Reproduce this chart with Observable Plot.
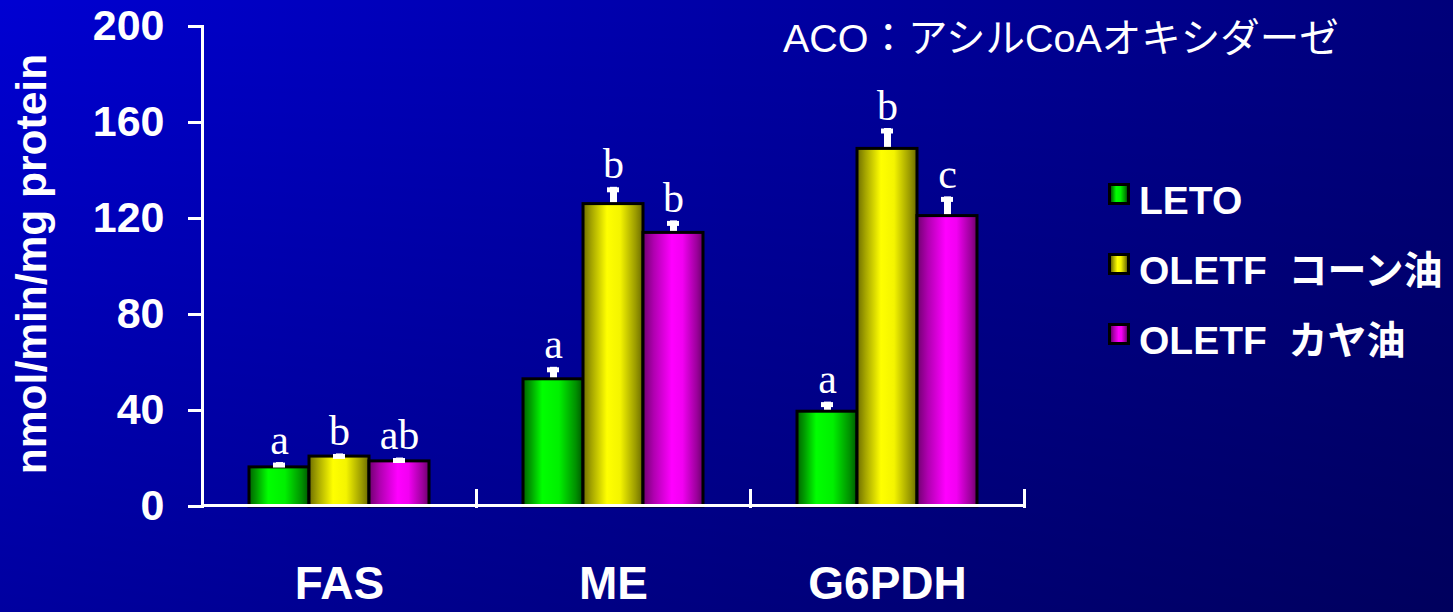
<!DOCTYPE html>
<html>
<head>
<meta charset="utf-8">
<script src="https://cdn.jsdelivr.net/npm/d3@7"></script>
<script src="https://cdn.jsdelivr.net/npm/@observablehq/plot@0.6"></script>
<style>
  body { margin: 0; }
  #chart {
    position: relative;
    width: 1453px;
    height: 612px;
    overflow: hidden;
    background:
      linear-gradient(to bottom, rgba(0,0,0,0) 0%, rgba(0,0,0,0.24) 100%),
      linear-gradient(to right, #0000d2, #00007a);
    font-family: "Liberation Sans", "Noto Sans CJK JP", sans-serif;
    color: #fff;
  }
  #chart svg { position: absolute; left: 0; top: 0; }
  .title {
    position: absolute; left: 783px; top: 19px;
    font-size: 39.5px; line-height: 39px; white-space: pre;
  }
  .ylabel {
    position: absolute; left: 32px; top: 264px;
    transform: translate(-50%, -50%) rotate(-90deg);
    font-size: 42.5px; line-height: 42px; font-weight: bold; white-space: pre;
  }
  .legend-row { position: absolute; left: 1108px; height: 0; }
  .legend-row .swatch {
    position: absolute; left: 0; width: 16px; height: 16px;
    border: 3px solid #000;
  }
  .legend-row .name {
    position: absolute; left: 31px;
    font-size: 39px; line-height: 39px; font-weight: bold; white-space: pre;
  }
</style>
</head>
<body>
<div id="chart"></div>
<script>
// Enzyme activities (nmol/min/mg protein) per enzyme and rat group
const categories = ["FAS", "ME", "G6PDH"];
const groups = ["LETO", "OLETF  コーン油", "OLETF  カヤ油"];

const letoValues = [16.3, 53, 39.5];
const cornValues = [20.8, 126, 149];
const kayaValues = [18.8, 114, 121];

const letoErrors = [2, 5, 4];
const cornErrors = [1.1, 7, 8.5];
const kayaErrors = [1.4, 5, 8];

const letoLetters = ["a", "a", "a"];
const cornLetters = ["b", "b", "b"];
const kayaLetters = ["ab", "b", "c"];

const yTicks = [0, 40, 80, 120, 160, 200];
const yLabel = "nmol/min/mg protein";
const titleText = "ACO：アシルCoAオキシダーゼ";

// Cylinder-like shading for each group's bars
const gradientStops = [
  [["0", "#006400"], ["0.12", "#009a00"], ["0.32", "#00ff00"], ["0.6", "#00f000"], ["0.88", "#009000"], ["1", "#005800"]],
  [["0", "#6e6e00"], ["0.15", "#a8a800"], ["0.4", "#ffff00"], ["0.62", "#f4f400"], ["0.88", "#9a9a00"], ["1", "#6a6a00"]],
  [["0", "#700070"], ["0.18", "#b000b0"], ["0.48", "#ff00ff"], ["0.66", "#f200f2"], ["0.9", "#9a009a"], ["1", "#6a006a"]]
];
const gradientIds = ["grad-leto", "grad-corn", "grad-kaya"];

const series = [
  {values: letoValues, errors: letoErrors, letters: letoLetters},
  {values: cornValues, errors: cornErrors, letters: cornLetters},
  {values: kayaValues, errors: kayaErrors, letters: kayaLetters}
];

const table = categories.flatMap((category, i) =>
  series.map((s, j) => ({
    category,
    group: groups[j],
    value: s.values[i],
    error: s.errors[i],
    letter: s.letters[i]
  }))
);

const W = 1453, H = 612;
const margin = {top: 26, right: 428, bottom: 106, left: 201};
const frameHeight = H - margin.top - margin.bottom;
const upper = (d) => d.value + d.error;

const plot = Plot.plot({
  width: W,
  height: H,
  marginTop: margin.top,
  marginRight: margin.right,
  marginBottom: margin.bottom,
  marginLeft: margin.left,
  style: {background: "transparent", color: "white", fontFamily: "Liberation Sans, Noto Sans CJK JP, sans-serif", overflow: "visible"},
  fx: {domain: categories, padding: 0},
  x: {domain: groups, paddingInner: 0, paddingOuter: 0.76, axis: null},
  y: {domain: [0, 200]},
  color: {type: "ordinal", domain: groups, range: gradientIds.map((id) => `url(#${id})`)},
  marks: [
    // error bar stems
    Plot.ruleX(table, {fx: "category", x: "group", y1: "value", y2: upper, stroke: "white", strokeWidth: 7}),
    Plot.barY(table, {fx: "category", x: "group", y: "value", fill: "group", stroke: "black", strokeWidth: 3}),
    // error bar caps
    Plot.tickY(table, {fx: "category", x: "group", y: upper, stroke: "white", strokeWidth: 5, insetLeft: 24, insetRight: 24, dy: 2.5}),
    // significance letters
    Plot.text(table, {fx: "category", x: "group", y: upper, text: "letter", lineAnchor: "bottom", dy: -9,
      fontFamily: "Liberation Serif, serif", fontSize: 42, fill: "white"}),
    // baseline and group separators
    Plot.ruleY([0], {stroke: "white", strokeWidth: 3, dy: -1}),
    Plot.frame({anchor: "right", insetTop: frameHeight - 16, stroke: "white", strokeWidth: 3}),
    Plot.frame({anchor: "left", facetAnchor: "left", stroke: "white", strokeWidth: 3}),
    Plot.axisY({ticks: yTicks, tickSize: 14, tickPadding: 24, strokeWidth: 3, fontSize: 43, fontWeight: "bold", label: null}),
    Plot.axisFx({anchor: "bottom", tickSize: 0, tickPadding: 60, fontSize: 46, fontWeight: "bold", label: null})
  ]
});

// gradient definitions referenced by the bar fills
const defs = d3.select(plot).insert("defs", ":first-child");
gradientIds.forEach((id, j) => {
  const g = defs.append("linearGradient").attr("id", id)
    .attr("x1", "0").attr("x2", "1").attr("y1", "0").attr("y2", "0");
  gradientStops[j].forEach(([offset, color]) =>
    g.append("stop").attr("offset", offset).attr("stop-color", color));
});

const chart = document.getElementById("chart");
chart.appendChild(plot);

// title
const title = document.createElement("div");
title.className = "title";
title.textContent = titleText;
chart.appendChild(title);

// y axis label
const yl = document.createElement("div");
yl.className = "ylabel";
yl.textContent = yLabel;
chart.appendChild(yl);

// legend
groups.forEach((name, j) => {
  const row = document.createElement("div");
  row.className = "legend-row";
  row.style.top = (183 + 70 * j) + "px";
  const sw = document.createElement("div");
  sw.className = "swatch";
  sw.style.background = "linear-gradient(to right, " +
    gradientStops[j].map(([o, c]) => `${c} ${Math.round(o * 100)}%`).join(", ") + ")";
  const label = document.createElement("div");
  label.className = "name";
  label.style.top = "-2px";
  label.textContent = name;
  row.appendChild(sw);
  row.appendChild(label);
  chart.appendChild(row);
});
</script>
</body>
</html>
